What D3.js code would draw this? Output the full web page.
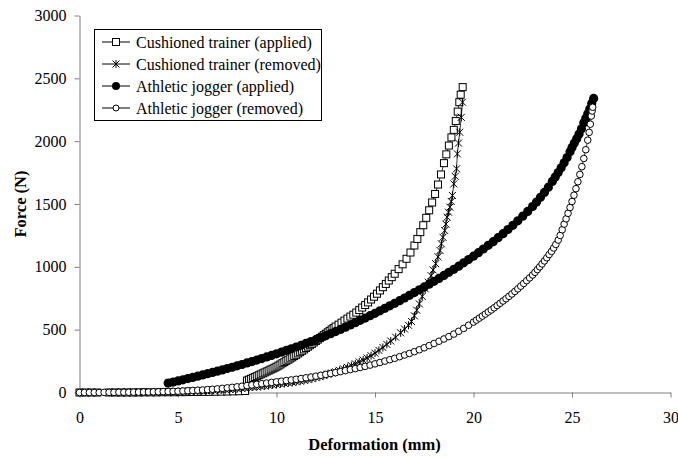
<!DOCTYPE html>
<html><head><meta charset="utf-8">
<script src="https://cdn.jsdelivr.net/npm/d3@7"></script>
<style>
body{margin:0;background:#fff}
svg{display:block}
text{font-family:"Liberation Serif","Times New Roman",serif;fill:#000}
</style>
</head><body>
<svg id="c" width="678" height="457"></svg>
<script>
const xTicks=[0,5,10,15,20,25,30];
const yTicks=[0,500,1000,1500,2000,2500,3000];
const seriesNames=["Cushioned trainer (applied)","Cushioned trainer (removed)","Athletic jogger (applied)","Athletic jogger (removed)"];
const seriesMarkers=["square","asterisk","filled","hollow"];

const cushionedApplied=[[0,0],[0.3,0],[0.6,0],[0.9,0],[1.5,0],[1.8,0],[2.1,0],[2.4,0],[2.7,0],[3.0,0],[3.3,1],[3.6,1],[3.9,1],[4.2,2],[4.5,2],[4.8,2],[5.1,3],[5.4,3],[5.7,4],[6.0,4],[6.3,5],[6.6,5],[6.9,6],[7.2,7],[7.5,8],[7.8,9],[8.1,10],[8.4,12],
[8.5,95],[8.6,102],[8.7,109],[8.8,116],[8.9,123],[9.0,130],[9.1,137],[9.2,144],[9.3,152],[9.4,159],[9.5,167],[9.6,174],[9.7,182],[9.8,189],[9.9,197],[10.0,205],[10.1,214],[10.2,223],[10.3,233],[10.4,242],[10.5,252],[10.6,261],[10.7,271],[10.8,280],[10.9,290],[11.0,300],[11.1,311],[11.2,321],[11.3,332],[11.4,343],[11.5,354],[11.6,365],[11.7,376],[11.8,387],[11.9,399],[12.0,410],[12.1,421],[12.2,433],[12.3,444],[12.4,456],[12.5,467],[12.6,479],[12.7,490],[12.8,502],[12.9,513],[13.0,525],[13.15,540],[13.3,556],[13.45,572],[13.6,588],[13.75,604],[13.9,619],[14.05,636],[14.2,656],[14.35,676],[14.5,696],[14.65,717],[14.8,740],[14.95,762],[15.1,786],[15.25,812],[15.4,838],[15.55,864],[15.7,891],[15.85,918],[16.0,945],[16.2,982],[16.4,1020],[16.6,1064],[16.8,1114],[17.0,1170],[17.15,1222],[17.3,1276],[17.45,1331],[17.6,1390],[17.75,1450],[17.9,1512],[18.05,1580],[18.2,1655],[18.35,1735],[18.5,1825],[18.62,1895],[18.75,1965],[18.88,2030],[19.0,2090],[19.1,2160],[19.2,2235],[19.28,2310],[19.35,2370],[19.45,2430]];

const cushionedRemoved=[[2,1],[2.3,1],[2.6,2],[2.9,3],[3.2,3],[3.5,4],[3.8,5],[4.1,5],[4.4,6],[4.7,7],[5,8],[5.2,9],[5.4,10],[5.6,11],[5.8,12],[6.0,13],[6.2,14],[6.4,15],[6.6,17],[6.8,18],[7.0,20],[7.2,22],[7.4,24],[7.6,26],[7.8,28],[8,31],[8.2,34],[8.4,37],[8.6,40],[8.8,43],[9.0,46],[9.2,49],[9.4,53],[9.6,57],[9.8,61],[10.0,65],[10.2,69],[10.4,73],[10.6,77],[10.8,81],[11,86],[11.2,91],[11.4,97],[11.6,103],[11.8,110],[12.0,118],[12.2,126],[12.4,135],[12.6,145],[12.8,155],[13.0,165],[13.2,176],[13.4,188],[13.6,200],[13.8,214],[14.0,228],[14.2,243],[14.4,258],[14.6,275],[14.8,293],[15.0,313],[15.2,335],[15.4,358],[15.6,383],[15.8,410],[16.05,440],[16.3,475],[16.5,505],[16.7,535],[16.85,565],[17.0,610],[17.12,655],[17.25,705],[17.4,765],[17.55,825],[17.7,878],[17.85,930],[17.95,975],[18.08,1025],[18.2,1080],[18.3,1130],[18.37,1183],[18.45,1235],[18.54,1289],[18.6,1340],[18.66,1395],[18.73,1435],[18.8,1475],[18.87,1520],[18.93,1568],[19.0,1660],[19.07,1720],[19.14,1780],[19.18,1899],[19.24,1985],[19.3,2071],[19.38,2190],[19.44,2310]];

const joggerApplied=[[4.5,75],[4.75,83],[5.0,92],[5.25,101],[5.5,111],[5.75,120],[6.0,130],[6.25,140],[6.5,150],[6.75,160],[7.0,170],[7.25,180],[7.5,191],[7.75,201],[8.0,212],[8.25,223],[8.5,235],[8.75,246],[9.0,258],[9.25,270],[9.5,283],[9.75,295],[10.0,308],[10.25,321],[10.5,335],[10.75,348],[11.0,362],[11.25,376],[11.5,391],[11.75,405],[12.0,420],[12.25,436],[12.5,452],[12.75,468],[13.0,485],[13.25,502],[13.5,520],[13.75,537],[14.0,555],[14.25,574],[14.5,592],[14.75,611],[15.0,630],[15.25,650],[15.5,670],[15.75,690],[16.0,710],[16.25,731],[16.5,752],[16.75,773],[17.0,795],[17.25,817],[17.5,840],[17.75,862],[18.0,885],[18.25,908],[18.5,932],[18.75,956],[19.0,980],[19.25,1005],[19.5,1032],[19.75,1058],[20.0,1085],[20.25,1113],[20.5,1142],[20.75,1171],[21.0,1200],[21.25,1232],[21.5,1264],[21.75,1297],[22.0,1330],[22.25,1366],[22.5,1403],[22.75,1441],[23.0,1480],[23.2,1515],[23.4,1553],[23.6,1592],[23.8,1634],[24.0,1680],[24.15,1714],[24.3,1750],[24.45,1788],[24.6,1828],[24.75,1870],[24.9,1915],[25.0,1950],[25.12,1985],[25.24,2020],[25.36,2058],[25.48,2099],[25.6,2146],[25.7,2182],[25.8,2218],[25.9,2255],[26.0,2300],[26.1,2340]];

const joggerRemoved=[[0,0],[0.25,0],[0.5,0],[0.75,0],[1,0],[1.25,1],[1.5,1],[1.75,1],[2,2],[2.25,2],[2.5,2],[2.75,3],[3,3],[3.25,4],[3.5,4],[3.75,5],[4,6],[4.25,7],[4.5,8],[4.75,9],[5,10],[5.25,12],[5.5,14],[5.75,16],[6,18],[6.25,20],[6.5,23],[6.75,26],[7,29],[7.25,33],[7.5,37],[7.75,41],[8,45],[8.25,50],[8.5,55],[8.75,60],[9,65],[9.25,70],[9.5,75],[9.75,80],[10,85],[10.25,90],[10.5,95],[10.75,100],[11,105],[11.25,111],[11.5,117],[11.75,123],[12,130],[12.25,137],[12.5,144],[12.75,151],[13,158],[13.25,166],[13.5,174],[13.75,182],[14,190],[14.25,199],[14.5,208],[14.75,218],[15,228],[15.25,239],[15.5,250],[15.75,261],[16,272],[16.25,285],[16.5,298],[16.75,311],[17,325],[17.25,340],[17.5,356],[17.75,373],[18,390],[18.25,408],[18.5,426],[18.75,445],[19,465],[19.25,487],[19.5,510],[19.75,535],[20,560],[20.15,576],[20.3,592],[20.45,608],[20.6,624],[20.75,641],[20.9,657],[21.05,674],[21.2,692],[21.35,710],[21.5,728],[21.65,746],[21.8,765],[21.95,784],[22.1,804],[22.25,825],[22.4,846],[22.55,868],[22.7,890],[22.85,912],[23.0,935],[23.12,956],[23.24,978],[23.36,1000],[23.48,1023],[23.6,1047],[23.72,1072],[23.84,1098],[23.96,1123],[24.07,1150],[24.18,1178],[24.3,1213],[24.4,1250],[24.5,1295],[24.6,1340],[24.7,1382],[24.8,1426],[24.9,1472],[25.0,1520],[25.1,1570],[25.2,1622],[25.3,1677],[25.4,1735],[25.5,1797],[25.6,1862],[25.7,1932],[25.8,2008],[25.87,2070],[25.93,2135],[25.98,2200],[26.02,2240],[26.05,2270]];

const allSeries=[cushionedApplied,cushionedRemoved,joggerApplied,joggerRemoved];

const svg=d3.select('#c');
const x=d3.scaleLinear().domain([0,30]).range([79.5,670.5]);
const y=d3.scaleLinear().domain([0,3000]).range([392.5,15.5]);
const axisColor='#7f7f7f';

const gx=svg.append('g').attr('transform','translate(0,392.5)')
  .call(d3.axisBottom(x).tickValues(xTicks).tickFormat(d3.format('d')).tickSize(5).tickPadding(14).tickSizeOuter(0));
const gy=svg.append('g').attr('transform','translate(79.5,0)')
  .call(d3.axisLeft(y).tickValues(yTicks).tickFormat(d3.format('d')).tickSize(5).tickPadding(8).tickSizeOuter(0));
[gx,gy].forEach(g=>{
  g.select('.domain').attr('stroke',axisColor).attr('stroke-width',1);
  g.selectAll('.tick line').attr('stroke',axisColor).attr('stroke-width',1);
  g.selectAll('.tick text').attr('font-size',16).attr('font-family','"Liberation Serif",serif').attr('fill','#000');
});

svg.append('text').attr('x',374.5).attr('y',450).attr('text-anchor','middle')
  .attr('font-size',16.5).attr('font-weight','bold').text('Deformation (mm)');
svg.append('text').attr('transform','translate(26,204) rotate(-90)').attr('text-anchor','middle')
  .attr('font-size',16.5).attr('font-weight','bold').text('Force (N)');

function asteriskPath(s){
  const h=s/2;
  return `M${-h},${-h}L${h},${h}M${-h},${h}L${h},${-h}M0,${-h-0.5}L0,${h+0.5}`;
}
function drawMarkers(g,data,type){
  const sel=g.selectAll(null).data(data).enter();
  if(type==='square'){
    sel.append('rect').attr('x',d=>x(d[0])-3.5).attr('y',d=>y(d[1])-3.5).attr('width',7).attr('height',7)
      .attr('fill','#fff').attr('stroke','#000').attr('stroke-width',1);
  } else if(type==='asterisk'){
    sel.append('path').attr('transform',d=>`translate(${x(d[0])},${y(d[1])})`).attr('d',asteriskPath(7))
      .attr('fill','none').attr('stroke','#000').attr('stroke-width',1);
  } else if(type==='filled'){
    sel.append('circle').attr('cx',d=>x(d[0])).attr('cy',d=>y(d[1])).attr('r',4.6).attr('fill','#000');
  } else {
    sel.append('circle').attr('cx',d=>x(d[0])).attr('cy',d=>y(d[1])).attr('r',3.3).attr('fill','#fff')
      .attr('stroke','#000').attr('stroke-width',1);
  }
}
const line=d3.line().x(d=>x(d[0])).y(d=>y(d[1]));
allSeries.forEach((data,i)=>{
  const g=svg.append('g');
  g.append('path').datum(data).attr('d',line).attr('fill','none').attr('stroke','#000').attr('stroke-width',0.8);
  drawMarkers(g,data,seriesMarkers[i]);
});

// legend
const lg=svg.append('g');
lg.append('rect').attr('x',94.5).attr('y',29.5).attr('width',227).attr('height',91)
  .attr('fill','#fff').attr('stroke','#000').attr('stroke-width',1);
const rowY=[42,64,86,108];
seriesNames.forEach((name,i)=>{
  const cy=rowY[i];
  lg.append('line').attr('x1',102).attr('x2',130).attr('y1',cy).attr('y2',cy).attr('stroke','#000').attr('stroke-width',1);
  const t=seriesMarkers[i];
  if(t==='square') lg.append('rect').attr('x',116-3.5).attr('y',cy-3.5).attr('width',7).attr('height',7).attr('fill','#fff').attr('stroke','#000');
  else if(t==='asterisk') lg.append('path').attr('transform',`translate(116,${cy})`).attr('d',asteriskPath(7)).attr('stroke','#000').attr('fill','none');
  else if(t==='filled') lg.append('circle').attr('cx',116).attr('cy',cy).attr('r',4).attr('fill','#000');
  else lg.append('circle').attr('cx',116).attr('cy',cy).attr('r',3).attr('fill','#fff').attr('stroke','#000');
  lg.append('text').attr('x',136).attr('y',cy+5.5).attr('font-size',16).text(name);
});
</script>
</body></html>
